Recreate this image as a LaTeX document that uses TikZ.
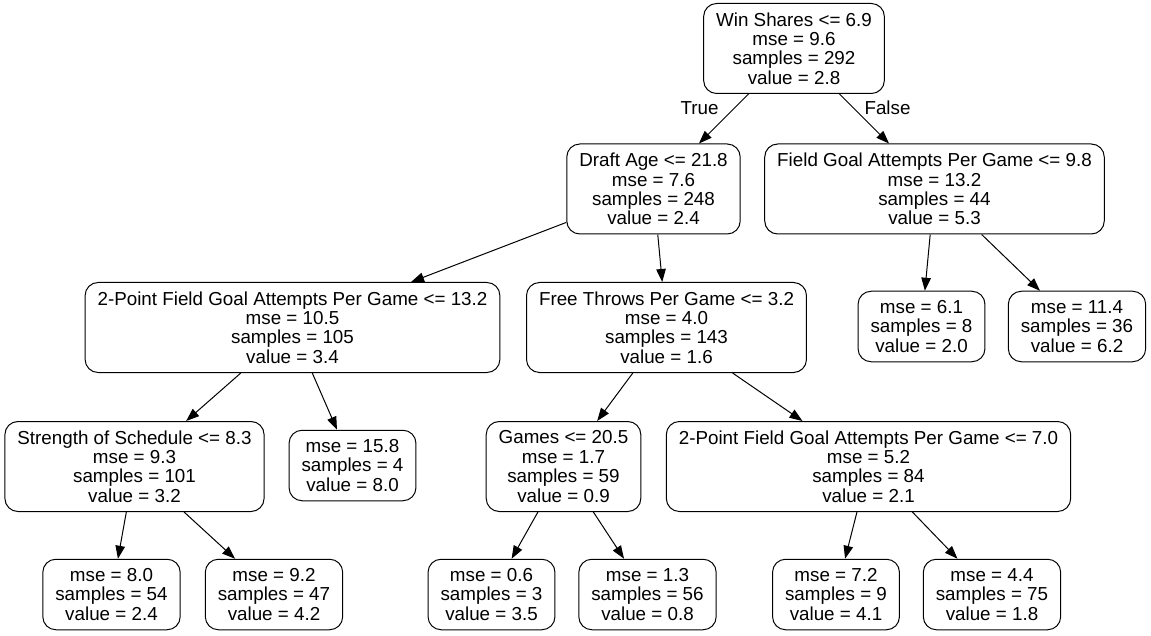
\documentclass[tikz,border=0pt]{standalone}
\usepackage{fontspec}
\setmainfont{Liberation Sans}
\usetikzlibrary{arrows.meta}

\begin{document}
\begin{tikzpicture}[x=1pt, y=-1pt,
        tnode/.style = {draw, black, line width=1pt, rounded corners=13pt, align=center,
            inner xsep=12.5pt, inner ysep=0pt, font={\fontsize{18.8}{19.4}\selectfont}},
        split/.style = {tnode, minimum height=90pt},
        leaf/.style = {tnode, minimum height=70.5pt},
        lbl/.style = {font={\fontsize{18.8}{19.4}\selectfont}, inner sep=0pt},
        edge/.style = {line width=1pt, -{Triangle[length=13pt, width=9.5pt]}}]
        \useasboundingbox (0, 0) rectangle (1151, 636);
        % splits
        \node[split] (root) at (794, 48.5) {Win Shares <= 6.9\\mse = 9.6\\samples = 292\\value = 2.8};
        \node[split] (draft) at (653.5, 189) {Draft Age <= 21.8\\mse = 7.6\\samples = 248\\value = 2.4};
        \node[split] (fga) at (934.5, 189) {Field Goal Attempts Per Game <= 9.8\\mse = 13.2\\samples = 44\\value = 5.3};
        \node[split] (tpa) at (292.5, 327.5) {2-Point Field Goal Attempts Per Game <= 13.2\\mse = 10.5\\samples = 105\\value = 3.4};
        \node[split] (ftg) at (666.5, 327.5) {Free Throws Per Game <= 3.2\\mse = 4.0\\samples = 143\\value = 1.6};
        \node[split] (sos) at (134.5, 466.5) {Strength of Schedule <= 8.3\\mse = 9.3\\samples = 101\\value = 3.2};
        \node[split] (games) at (563.5, 466.5) {Games <= 20.5\\mse = 1.7\\samples = 59\\value = 0.9};
        \node[split] (tpb) at (868.5, 466.5) {2-Point Field Goal Attempts Per Game <= 7.0\\mse = 5.2\\samples = 84\\value = 2.1};
        % leaves
        \node[leaf] (l61) at (921.5, 326.5) {mse = 6.1\\samples = 8\\value = 2.0};
        \node[leaf] (l114) at (1077, 326.5) {mse = 11.4\\samples = 36\\value = 6.2};
        \node[leaf] (l158) at (352.5, 465.5) {mse = 15.8\\samples = 4\\value = 8.0};
        \node[leaf] (l80) at (111.5, 594.5) {mse = 8.0\\samples = 54\\value = 2.4};
        \node[leaf] (l92) at (274, 594.5) {mse = 9.2\\samples = 47\\value = 4.2};
        \node[leaf] (l06) at (491.5, 594.5) {mse = 0.6\\samples = 3\\value = 3.5};
        \node[leaf] (l13) at (647.5, 594.5) {mse = 1.3\\samples = 56\\value = 0.8};
        \node[leaf] (l72) at (836, 594.5) {mse = 7.2\\samples = 9\\value = 4.1};
        \node[leaf] (l44) at (992, 594.5) {mse = 4.4\\samples = 75\\value = 1.8};
        % edges
        \draw[edge] (root) -- (draft);
        \draw[edge] (root) -- (fga);
        \draw[edge] (draft) -- (tpa);
        \draw[edge] (draft) -- (ftg);
        \draw[edge] (fga) -- (l61);
        \draw[edge] (fga) -- (l114);
        \draw[edge] (tpa) -- (sos);
        \draw[edge] (tpa) -- (l158);
        \draw[edge] (ftg) -- (games);
        \draw[edge] (ftg) -- (tpb);
        \draw[edge] (sos) -- (l80);
        \draw[edge] (sos) -- (l92);
        \draw[edge] (games) -- (l06);
        \draw[edge] (games) -- (l13);
        \draw[edge] (tpb) -- (l72);
        \draw[edge] (tpb) -- (l44);
        \node[lbl] (truelbl) at (699.5, 108) {True};
        \node[lbl] (falselbl) at (887.5, 108) {False};
    \end{tikzpicture}
\end{document}
